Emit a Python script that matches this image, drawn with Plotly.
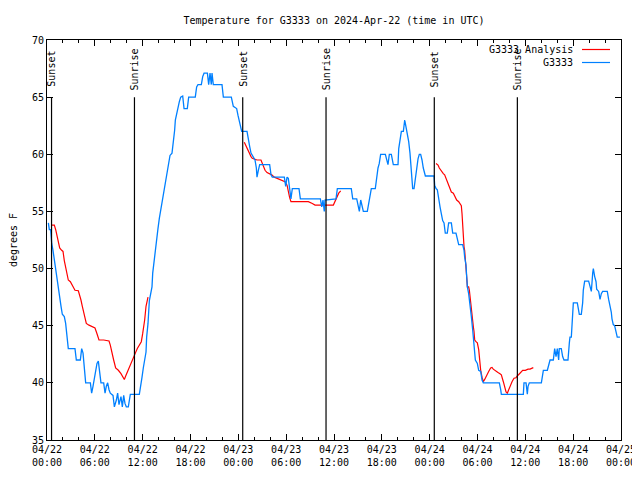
import pandas as pd
import plotly.graph_objects as go

BASE = pd.Timestamp("2024-04-22 00:00")

# ---- G3333 observations (hours since 2024-04-22 00:00 UTC, deg F)
obs_hours = [
    0.17, 0.29, 0.46, 0.59, 0.75, 0.92, 1.09, 1.25, 1.42, 1.59, 1.76, 1.92, 2.17, 2.34, 2.51, 2.67,
    3.51, 3.68, 4.18, 4.35, 4.52, 4.68, 4.85, 5.44, 5.60, 5.77, 6.02, 6.27, 6.44, 6.61, 6.77, 7.11,
    7.28, 7.44, 7.61, 7.78, 7.94, 8.28, 8.45, 8.70, 8.86, 9.03, 9.28, 9.45, 9.62, 9.78, 9.95, 10.20,
    10.45, 11.58, 11.75, 11.92, 12.08, 12.25, 12.42, 12.50, 12.67, 12.84, 13.00, 13.17, 13.26, 13.42,
    13.59, 13.76, 13.92, 14.09, 14.26, 14.43, 14.59, 14.76, 14.93, 15.09, 15.26, 15.43, 15.68, 15.85,
    16.01, 16.10, 16.26, 16.43, 16.60, 16.77, 17.02, 17.19, 17.35, 17.60, 17.77, 18.60, 18.77, 18.94,
    19.36, 19.53, 19.70, 20.12, 20.28, 20.45, 20.61, 20.70, 20.86, 21.95, 22.12, 23.12, 23.37, 23.79,
    23.96, 24.17, 24.34, 24.42, 25.09, 25.25, 25.42, 25.59, 25.75, 25.92, 26.09, 26.26, 26.34, 26.51,
    26.68, 27.93, 28.10, 28.26, 29.77, 29.94, 30.11, 30.27, 30.44, 30.60, 30.77, 31.61, 31.78, 34.29,
    34.46, 34.62, 34.78, 34.87, 36.25, 36.42, 38.17, 38.35, 38.85, 39.01, 39.18, 39.35, 39.51, 39.68,
    40.18, 40.35, 40.52, 40.68, 41.18, 41.35, 41.52, 41.68, 41.85, 42.44, 42.61, 42.77, 42.94, 43.19,
    43.44, 44.03, 44.12, 44.28, 44.45, 44.70, 44.87, 45.03, 45.20, 45.37, 45.53, 45.70, 45.87, 46.04,
    46.20, 46.37, 46.54, 46.70, 46.87, 47.04, 47.20, 47.46, 48.55, 48.63, 48.80, 48.96, 49.13, 49.30,
    49.46, 49.63, 49.80, 49.96, 50.21, 50.38, 50.72, 50.89, 51.30, 51.47, 51.64, 52.14, 52.31, 52.39,
    52.56, 52.64, 52.73, 52.89, 53.06, 53.23, 53.40, 53.56, 53.73, 53.98, 54.15, 54.40, 54.57, 54.73,
    56.74, 56.91, 56.99, 59.75, 59.83, 60.09, 60.17, 60.25, 60.34, 60.50, 62.01, 62.18, 62.26, 62.76,
    62.93, 63.10, 63.51, 63.68, 63.85, 64.01, 64.18, 64.26, 64.51, 64.68, 64.85, 65.35, 65.52, 65.60,
    65.77, 65.86, 66.02, 66.52, 66.69, 66.77, 67.02, 67.19, 67.27, 67.44, 67.94, 68.11, 68.28, 68.45,
    68.53, 68.70, 68.87, 68.95, 69.20, 69.37, 69.53, 69.70, 70.28, 70.45, 70.62, 70.78, 70.87, 71.03,
    71.20, 71.53, 71.87,
]
obs_temps = [
    54.0, 53.4, 53.4, 52.2, 51.6, 50.7, 49.9, 49.0, 48.1, 47.5, 46.7, 46.0, 45.8, 45.2, 44.3, 43.0,
    43.0, 42.0, 42.0, 43.0, 42.6, 41.4, 40.0, 40.0, 39.1, 39.7, 40.8, 41.7, 41.9, 40.8, 40.0, 40.0,
    39.1, 39.7, 40.0, 39.4, 39.1, 38.9, 37.9, 38.5, 39.1, 38.1, 38.8, 37.9, 38.9, 38.2, 37.9, 37.9,
    39.0, 39.0, 40.0, 40.5, 41.3, 41.9, 42.7, 44.0, 45.2, 47.2, 47.7, 48.4, 49.6, 50.7,
    51.3, 52.5, 53.5, 54.4, 55.1, 55.8, 56.6, 57.3, 58.0, 58.8, 59.3, 59.9, 60.1, 61.0,
    62.1, 63.0, 63.6, 64.3, 64.6, 65.0, 65.1, 64.0, 64.0, 64.0, 65.0, 65.0, 65.9, 66.1,
    66.1, 66.8, 67.1, 67.1, 66.1, 67.1, 66.1, 67.1, 66.1, 66.1, 65.0, 65.0, 64.2, 64.0,
    63.4, 62.8, 62.4, 62.0, 62.0, 61.2, 60.7, 60.1, 59.9, 59.6, 59.5, 58.8, 58.0, 58.6,
    59.1, 59.1, 58.2, 58.0, 58.0, 57.2, 58.0, 57.9, 57.0, 56.1, 57.0, 57.0, 56.1, 56.1,
    55.4, 56.0, 55.0, 56.0, 56.1, 57.0, 57.0, 56.1, 56.1, 55.4, 55.0, 56.0, 55.4, 55.0,
    55.0, 55.7, 56.3, 57.0, 57.0, 58.0, 58.8, 59.2, 60.0, 60.0, 59.35, 59.1, 60.0, 60.0,
    59.1, 59.1, 60.5, 61.2, 62.0, 62.0, 63.0, 62.4, 61.8, 61.1, 60.1, 58.0, 57.0, 57.0,
    58.0, 58.9, 59.6, 60.0, 60.0, 59.5, 58.8, 58.1, 58.1, 57.3, 57.0, 56.9, 56.3, 55.4,
    54.8, 54.2, 54.0, 53.1, 53.1, 54.0, 54.0, 53.1, 53.1, 52.6, 52.1, 52.1, 51.6, 51.0,
    50.3, 49.3, 48.4, 47.8, 47.0, 45.8, 44.6, 43.5, 42.0, 41.7, 41.1, 41.0, 40.25, 40.0,
    40.0, 39.4, 39.0, 39.0, 40.0, 40.0, 39.2, 39.0, 39.7, 40.0, 40.0, 40.8, 41.1, 41.1,
    41.7, 42.0, 42.0, 43.0, 42.3, 43.0, 42.0, 43.0, 43.0, 42.3, 42.0, 42.0, 43.5, 44.0,
    44.0, 44.8, 47.0, 47.0, 46.4, 46.0, 46.0, 47.0, 48.1, 48.9, 48.9, 48.4, 48.0, 49.6,
    50.0, 49.3, 48.85, 48.2, 48.0, 47.3, 47.8, 48.0, 48.0, 47.3, 46.8, 46.2, 45.6, 45.1,
    45.0, 44.0, 44.0,
]

# ---- G3333 Analysis (three separate runs)
ana1_hours = [0.59, 0.92, 1.09, 1.25, 1.42, 1.59, 1.84, 2.01, 2.17, 2.34, 2.51, 2.67, 2.93, 3.09,
              3.34, 3.51, 3.93, 4.10, 4.26, 4.43, 4.60, 4.77, 4.93, 5.27, 5.77, 6.02, 6.27, 6.52,
              7.11, 7.78, 7.94, 8.11, 8.36, 8.61, 8.95, 9.28, 9.53, 9.70, 9.87, 10.04, 10.29,
              10.54, 10.83, 11.08, 11.33, 11.67, 11.83, 12.00, 12.08, 12.25, 12.42, 12.59, 12.67]
ana1_temps = [53.8, 53.8, 53.4, 52.9, 52.35, 51.8, 51.6, 51.5, 50.7, 50.2, 49.6, 49.0, 48.85, 48.6,
              48.3, 48.1, 48.06, 47.7, 47.25, 46.7, 46.1, 45.65, 45.2, 45.05, 44.9, 44.8, 44.3, 43.75,
              43.75, 43.66, 43.3, 42.7, 42.0, 41.3, 41.1, 40.8, 40.5, 40.3, 40.6, 40.9, 41.3,
              41.7, 42.3, 42.6, 43.0, 43.5, 43.6, 44.3, 44.9, 45.5, 46.7, 47.25, 47.5]

ana2_hours = [24.75, 24.92, 25.09, 25.25, 25.42, 25.59, 25.75, 26.17, 26.34, 26.84, 27.01, 27.18,
              27.35, 27.60, 27.93, 28.19, 28.51, 28.85, 29.19, 29.60, 29.85, 30.11, 30.27, 30.44,
              30.60, 32.78, 33.28, 33.62, 35.92, 36.09, 36.25, 36.42, 36.59, 36.84]
ana2_temps = [61.05, 60.8, 60.5, 60.2, 60.1, 59.8, 59.65, 59.55, 59.5, 59.5, 59.2, 58.9,
              58.6, 58.4, 58.3, 58.2, 58.0, 57.9, 57.8, 57.7, 57.6, 57.3, 56.7, 56.2,
              55.85, 55.85, 55.7, 55.56, 55.56, 55.85, 56.1, 56.4, 56.6, 56.8]

ana3_hours = [48.80, 49.05, 49.21, 49.46, 49.71, 49.88, 50.05, 50.21, 50.38, 50.55, 50.72, 50.97,
              51.14, 51.39, 51.64, 51.81, 51.97, 52.06, 52.14, 52.22, 52.31, 52.39, 52.47, 52.56,
              52.64, 52.73, 52.89, 52.98, 53.06, 53.14, 53.31, 53.40, 53.48, 53.56, 53.65, 53.81,
              53.98, 54.15, 54.23, 54.32, 54.40, 54.57, 54.73, 54.90, 55.15, 55.40, 55.65, 55.82,
              55.98, 56.24, 56.57, 56.82, 56.99, 57.24, 57.41, 57.58, 57.74, 57.91, 58.08, 58.33,
              58.58, 58.83, 58.99, 59.33, 59.67, 60.00, 60.34, 60.59, 61.00]
ana3_temps = [59.2, 59.06, 58.8, 58.5, 58.3, 58.2, 57.9, 57.6, 57.3, 57.0, 56.7, 56.6,
              56.3, 56.0, 55.85, 55.65, 55.5, 54.8, 53.7, 52.8, 51.9, 51.6, 50.45, 49.9,
              49.3, 48.4, 48.4, 48.1, 47.5, 47.0, 46.1, 45.5, 44.9, 44.5, 43.75, 43.6,
              43.5, 42.9, 42.3, 41.7, 41.1, 40.5, 40.1, 40.3, 40.7, 41.0, 41.3, 41.35,
              41.2, 41.1, 40.9, 40.8, 40.7, 40.1, 39.7, 39.2, 39.1, 39.4, 39.7, 40.1,
              40.4, 40.45, 40.6, 40.9, 41.1, 41.1, 41.2, 41.2, 41.33]

# ---- Sun events
sun_hours = [0.57, 10.97, 24.55, 35.0, 48.58, 59.0]
sun_labels = ["Sunset", "Sunrise", "Sunset", "Sunrise", "Sunset", "Sunrise"]
sun_line_bottom = 35
sun_line_top = 65


def to_time(h):
    return BASE + pd.Timedelta(hours=h)


FONT = "DejaVu Sans Mono"
RED = "#ff0000"
BLUE = "#0080ff"
HOUR_MS = 3600 * 1000

# The page body adds an 8px offset, so the figure is 632x472 and margins are reduced
FIG_W, FIG_H = 632, 472
OFF = 8

fig = go.Figure()

ax_x, ax_y = [], []
for hs, ts in [(ana1_hours, ana1_temps), (ana2_hours, ana2_temps), (ana3_hours, ana3_temps)]:
    ax_x += [to_time(h) for h in hs] + [None]
    ax_y += list(ts) + [None]

fig.add_trace(go.Scatter(x=ax_x, y=ax_y, mode="lines", name="G3333 Analysis",
                         line=dict(color=RED, width=1.2), connectgaps=False, showlegend=False))
fig.add_trace(go.Scatter(x=[to_time(h) for h in obs_hours], y=obs_temps, mode="lines",
                         name="G3333", line=dict(color=BLUE, width=1.3), showlegend=False))

for h, lab in zip(sun_hours, sun_labels):
    t = to_time(h)
    fig.add_shape(type="line", xref="x", yref="y", x0=t, x1=t,
                  y0=sun_line_bottom, y1=sun_line_top, line=dict(color="black", width=1.2))
    fig.add_annotation(x=t, y=67.45, xref="x", yref="y", text=lab, textangle=-90,
                       showarrow=False, xanchor="center", yanchor="middle",
                       font=dict(family=FONT, size=10, color="black"))

# gnuplot-style key (text, then sample line)
for name, color, ypx in [("G3333 Analysis", RED, 49.5), ("G3333", BLUE, 62.5)]:
    yp = 1 - (ypx - 40) / 400
    fig.add_annotation(x=(575 - 47) / 574, y=yp, xref="paper", yref="paper", text=name,
                       showarrow=False, xanchor="right", yanchor="middle",
                       font=dict(family=FONT, size=10, color="black"))
    fig.add_shape(type="line", xref="paper", yref="paper",
                  x0=(582 - 47) / 574, x1=(610 - 47) / 574, y0=yp, y1=yp,
                  line=dict(color=color, width=1.2))

fig.update_layout(
    width=FIG_W, height=FIG_H,
    margin=dict(l=47 - OFF, r=19, t=40 - OFF, b=40, autoexpand=False),
    paper_bgcolor="white", plot_bgcolor="white",
    font=dict(family=FONT, size=10, color="black"),
    title=dict(text="Temperature for G3333 on 2024-Apr-22 (time in UTC)",
               x=0.5, xref="paper", xanchor="center",
               y=1 - (20 - OFF) / FIG_H, yref="container", yanchor="middle", automargin=False,
               font=dict(family=FONT, size=10, color="black")),
)

fig.update_xaxes(
    type="date", automargin=False,
    range=[to_time(0), to_time(72)],
    tickmode="linear", tick0=to_time(0), dtick=6 * HOUR_MS,
    tickformat="%m/%d<br>%H:%M",
    ticks="inside", ticklen=6, tickcolor="black", tickwidth=1,
    minor=dict(ticks="inside", ticklen=3, tickmode="linear", dtick=2 * HOUR_MS, tick0=to_time(0),
               tickcolor="black", tickwidth=1, showgrid=False),
    showline=True, linecolor="black", linewidth=1, mirror="allticks",
    showgrid=False, zeroline=False,
    tickfont=dict(family=FONT, size=10, color="black"),
)
fig.update_yaxes(
    automargin=False,
    range=[35, 70], tickmode="linear", tick0=35, dtick=5,
    ticks="inside", ticklen=6, tickcolor="black", tickwidth=1,
    showline=True, linecolor="black", linewidth=1, mirror="allticks",
    showgrid=False, zeroline=False,
    tickfont=dict(family=FONT, size=10, color="black"),
    title=dict(text="degrees F", standoff=16, font=dict(family=FONT, size=10, color="black")),
)

fig.write_html("out.html")
